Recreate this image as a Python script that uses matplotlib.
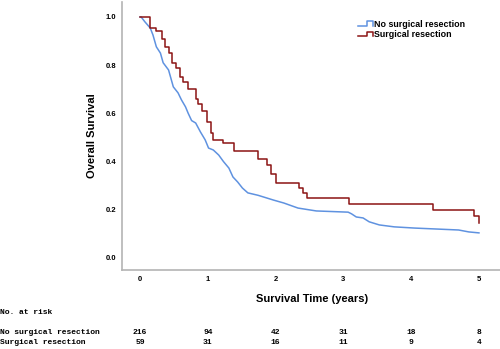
import matplotlib
matplotlib.use("Agg")
import matplotlib.pyplot as plt
from matplotlib.lines import Line2D
from matplotlib.legend_handler import HandlerBase
from matplotlib.transforms import blended_transform_factory

# survival curves (time in years, survival)
no_surg_t = [0, 0.015, 0.07, 0.15, 0.19, 0.24, 0.30, 0.34, 0.42, 0.45, 0.49, 0.56, 0.61,
             0.67, 0.71, 0.76, 0.82, 0.89, 0.96, 1.01, 1.08, 1.16, 1.23, 1.31, 1.37,
             1.44, 1.51, 1.59, 1.74, 1.97, 2.12, 2.33, 2.60, 3.07, 3.12, 3.19, 3.29,
             3.38, 3.53, 3.75, 4.05, 4.70, 4.85, 5.0]
no_surg_s = [1.0, 1.0, 0.98, 0.954, 0.925, 0.876, 0.85, 0.81, 0.78, 0.75, 0.71, 0.685, 0.656,
             0.627, 0.60, 0.57, 0.56, 0.523, 0.49, 0.456, 0.448, 0.427, 0.40, 0.373, 0.336,
             0.315, 0.29, 0.27, 0.26, 0.24, 0.228, 0.207, 0.195, 0.19, 0.183, 0.17, 0.166,
             0.15, 0.137, 0.129, 0.124, 0.116, 0.108, 0.104]

surg_t = [0, 0.15, 0.24, 0.32, 0.37, 0.42, 0.47, 0.53, 0.59, 0.64, 0.70, 0.82, 0.86, 0.92,
          0.99, 1.04, 1.08, 1.23, 1.39, 1.74, 1.87, 1.93, 2.00, 2.34, 2.40, 2.46, 3.08,
          4.32, 4.93, 5.0, 5.0]
surg_s = [1.0, 0.955, 0.94, 0.91, 0.875, 0.85, 0.81, 0.79, 0.75, 0.73, 0.70, 0.66, 0.64, 0.61,
          0.565, 0.52, 0.49, 0.475, 0.445, 0.41, 0.385, 0.35, 0.31, 0.29, 0.27, 0.25, 0.224,
          0.199, 0.175, 0.175, 0.146]

risk_times = [0, 1, 2, 3, 4, 5]
risk_no_surg = [216, 94, 42, 31, 18, 8]
risk_surg = [59, 31, 16, 11, 9, 4]

labels = ["No surgical resection", "Surgical resection"]
colors = ["#5f92e0", "#8c1414"]

sans = "Liberation Sans"
mono = "Liberation Mono"


class StepHandler(HandlerBase):
    def create_artists(self, legend, orig_handle, xdescent, ydescent, width, height, fontsize, trans):
        x0, y0 = -xdescent, -ydescent
        xs = [x0, x0 + 0.55 * width, x0 + 0.55 * width, x0 + width, x0 + width]
        ys = [y0 + 0.2 * height, y0 + 0.2 * height, y0 + 0.85 * height, y0 + 0.85 * height, y0 + 0.2 * height]
        ln = Line2D(xs, ys, color=orig_handle.get_color(), linewidth=orig_handle.get_linewidth(), transform=trans)
        return [ln]


fig = plt.figure(figsize=(5, 3.49), dpi=100)
ax = fig.add_axes([122 / 500, 1 - 270 / 349, 380 / 500, 268 / 349])

# the no-surgery curve has many tiny steps, drawn as a plain line through the read points
l1, = ax.plot(no_surg_t, no_surg_s, color=colors[0], linewidth=1.1, label=labels[0])
l2, = ax.plot(surg_t, surg_s, color=colors[1], linewidth=1.1, drawstyle="steps-post", label=labels[1])

ax.set_xlim(-0.267, 5.34)
ax.set_ylim(-0.05, 1.062)
ax.set_xticks(risk_times)
ax.set_yticks([0.0, 0.2, 0.4, 0.6, 0.8, 1.0])
ax.set_yticklabels(["0.0", "0.2", "0.4", "0.6", "0.8", "1.0"])
ax.tick_params(length=0, labelsize=5.5, pad=4)
for lab in ax.get_xticklabels() + ax.get_yticklabels():
    lab.set_fontweight("bold")
    lab.set_family(sans)

for side in ["top", "right"]:
    ax.spines[side].set_visible(False)
for side in ["left", "bottom"]:
    ax.spines[side].set_color("#b4b4b4")
    ax.spines[side].set_linewidth(1.2)

ax.set_ylabel("Overall Survival", fontsize=8, fontweight="bold", family=sans, labelpad=6)
ax.set_xlabel("Survival Time (years)", fontsize=8, fontweight="bold", family=sans, labelpad=8)

ax.legend(handles=[l1, l2], loc="upper left", bbox_to_anchor=(0.61, 0.95), frameon=False,
          handler_map={Line2D: StepHandler()}, prop={"family": sans, "weight": "bold", "size": 6.4},
          handlelength=1.7, handleheight=0.8, handletextpad=0.1, labelspacing=0.15, borderpad=0)

# number at risk table
tr = blended_transform_factory(ax.transData, fig.transFigure)
fig.text(0.0, 1 - 313 / 349, "No. at risk", family=mono, fontweight="bold", fontsize=5.8, va="center")
fig.text(0.0, 1 - 332 / 349, labels[0], family=mono, fontweight="bold", fontsize=5.8, va="center")
fig.text(0.0, 1 - 342 / 349, labels[1], family=mono, fontweight="bold", fontsize=5.8, va="center")
for t, a, b in zip(risk_times, risk_no_surg, risk_surg):
    ax.text(t, 1 - 332 / 349, str(a), transform=tr, family=mono, fontweight="bold", fontsize=5.8,
            ha="center", va="center")
    ax.text(t, 1 - 342 / 349, str(b), transform=tr, family=mono, fontweight="bold", fontsize=5.8,
            ha="center", va="center")

fig.savefig("out.png", dpi=100)
